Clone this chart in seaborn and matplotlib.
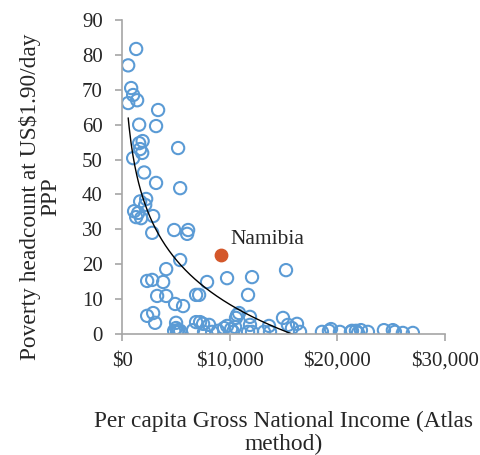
import numpy as np
import pandas as pd
import matplotlib.pyplot as plt
import matplotlib.ticker as mticker
import seaborn as sns

# GNI per capita (Atlas, US$) and poverty headcount (%)
gni = [1300, 560, 835, 1020, 1390, 560, 1580, 3340, 3150, 5200,
       1580, 1670, 1860, 1020, 1900, 5390, 3150, 2040, 1670, 2230,
       2140, 1300, 1490, 1760, 2880, 1110, 2790, 4830, 6130, 6040,
       5390, 4090, 2320, 2790, 3810, 7890, 9750, 12070, 15230, 3250,
       4090, 6870, 7150, 4920, 11700, 5660, 2320, 2880, 3060, 5010,
       4830, 5110, 5200, 5390, 5010, 6870, 7240, 7520, 8080, 8360,
       8910, 9470, 9750, 10120, 10490, 10580, 10680, 10860, 11880, 11880,
       12070, 13180, 11700, 10310, 7610, 6590, 14950, 15410, 15780, 16250,
       16530, 18570, 19220, 19410, 20240, 21260, 21360, 21730, 22190, 21920,
       22840, 24330, 25160, 25350, 26090, 27020, 13740, 13650]
poverty = [81.7, 77.0, 70.5, 68.5, 67.0, 66.2, 60.0, 64.2, 59.6, 53.3,
           54.7, 53.0, 51.9, 50.4, 55.3, 41.8, 43.3, 46.3, 38.0, 38.7,
           37.0, 33.5, 34.7, 33.2, 33.8, 35.2, 29.0, 29.8, 29.8, 28.7,
           21.2, 18.6, 15.2, 15.5, 14.9, 14.9, 16.0, 16.3, 18.3, 10.9,
           10.9, 11.2, 11.2, 8.6, 11.2, 8.0, 5.2, 6.0, 3.2, 3.2,
           0.9, 0.6, 1.1, 0.9, 1.7, 3.4, 3.4, 2.9, 2.6, 0.6,
           0.9, 1.7, 2.3, 1.4, 2.0, 4.6, 5.4, 6.0, 4.9, 2.6,
           0.6, 0.6, 0.6, 0.6, 0.6, 1.1, 4.6, 2.6, 1.7, 2.9,
           0.6, 0.6, 0.9, 1.4, 0.6, 0.6, 0.9, 0.9, 1.1, 0.3,
           0.6, 1.1, 1.1, 0.6, 0.3, 0.3, 0.6, 2.3]
namibia_gni = [9190]
namibia_pov = [22.6]

df = pd.DataFrame({'gni': gni, 'poverty': poverty})

sns.set_theme(style="white")
plt.rcParams['font.family'] = ['Liberation Serif', 'DejaVu Serif']

fig = plt.figure(figsize=(4.81, 4.55), dpi=100)
ax = fig.add_axes([0.254, 0.266, 0.671, 0.690])

sns.scatterplot(data=df, x='gni', y='poverty', ax=ax, s=78,
                facecolor='none', edgecolor='#5B9BD5', linewidth=1.5)
ax.scatter(namibia_gni, namibia_pov, s=80, color='#D4572A', zorder=3)
ax.text(namibia_gni[0] + 900, namibia_pov[0] + 1.8, 'Namibia',
        fontsize=15.5, ha='left', va='bottom')

# logarithmic trendline
b, a = np.polyfit(np.log(df['gni']), df['poverty'], 1)
xs = np.linspace(df['gni'].min(), df['gni'].max(), 300)
ax.plot(xs, a + b * np.log(xs), color='black', lw=1)

ax.set_xlim(0, 30000)
ax.set_ylim(0, 90)
ax.set_xticks([0, 10000, 20000, 30000])
ax.set_yticks(range(0, 91, 10))
ax.xaxis.set_major_formatter(mticker.StrMethodFormatter('${x:,.0f}'))
ax.tick_params(labelsize=15, length=5, width=1.2, color='#A6A6A6',
               direction='out', bottom=True, left=True)
ax.tick_params(axis='y', pad=9)
ax.tick_params(axis='x', pad=8)
for s in ['top', 'right']:
    ax.spines[s].set_visible(False)
for s in ['left', 'bottom']:
    ax.spines[s].set_color('#A6A6A6')
    ax.spines[s].set_linewidth(1.2)

ax.set_xlabel('Per capita Gross National Income (Atlas\nmethod)', fontsize=16.8,
              linespacing=1.12)
ax.set_ylabel('Poverty headcount at US$1.90/day\nPPP', fontsize=16.8,
              linespacing=0.95)
ax.xaxis.set_label_coords(0.5, -0.245)
ax.yaxis.set_label_coords(-0.19, 0.436)

fig.savefig('out.png', dpi=100)
